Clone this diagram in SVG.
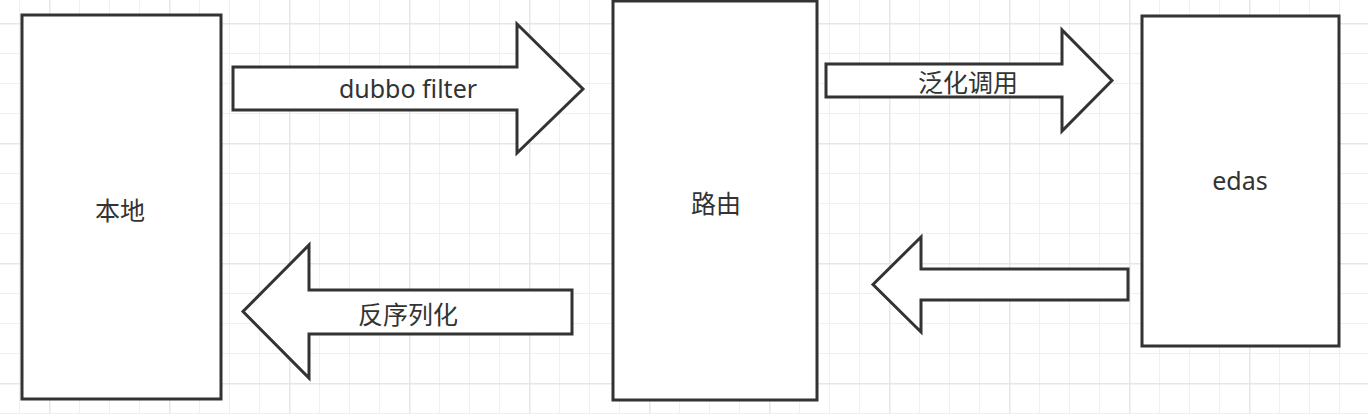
<svg xmlns="http://www.w3.org/2000/svg" width="1368" height="414" viewBox="0 0 1368 414">
<style>
.node{fill:#ffffff;stroke:#333333;stroke-width:3}
.arrow{fill:#ffffff;stroke:#333333;stroke-width:3;stroke-linejoin:miter}
.lbl{font-family:"Noto Sans","Noto Sans CJK SC",sans-serif;font-size:25px;fill:#333333;text-anchor:middle}
.cjk{font-family:"Noto Sans CJK SC","Noto Sans",sans-serif;font-size:25px;fill:#333333;text-anchor:middle;dominant-baseline:central}
</style>
<defs>
<pattern id="grid" patternUnits="userSpaceOnUse" x="19" y="23" width="120" height="120">
<g fill="#f0f0f0">
<rect x="0" y="0" width="1" height="120"/>
<rect x="60" y="0" width="1" height="120"/>
<rect x="90" y="0" width="1" height="120"/>
<rect x="0" y="30" width="120" height="1"/>
<rect x="0" y="60" width="120" height="1"/>
<rect x="0" y="90" width="120" height="1"/>
</g>
<g fill="#e6e6e6">
<rect x="30" y="0" width="1.5" height="120"/>
<rect x="0" y="0" width="120" height="1.5"/>
</g>
</pattern>
</defs>
<rect x="0" y="0" width="1368" height="414" fill="#ffffff"/>
<rect x="0" y="0" width="1368" height="414" fill="url(#grid)"/>

<g id="connectors">
<g id="arrow-dubbo-filter">
<polygon class="arrow" points="233,67 517,67 517,24 583,89 517,153 517,110 233,110"/>
<text class="lbl" x="408" y="98">dubbo filter</text>
</g>
<g id="arrow-generic-call">
<polygon class="arrow" points="826,64 1062,64 1062,30 1112,80.5 1062,131 1062,97 826,97"/>
<text class="cjk" x="968" y="80.5">泛化调用</text>
</g>
<g id="arrow-return">
<polygon class="arrow" points="1128,269 921,269 921,237 873,284.5 921,332 921,300 1128,300"/>
</g>
<g id="arrow-deserialize">
<polygon class="arrow" points="572,290 309,290 309,245 243,311.5 309,378 309,334 572,334"/>
<text class="cjk" x="408" y="312.5">反序列化</text>
</g>
</g>

<g id="node-local">
<rect class="node" x="22" y="15" width="199" height="384"/>
<text class="cjk" x="120" y="209">本地</text>
</g>
<g id="node-router">
<rect class="node" x="613" y="1" width="204" height="399"/>
<text class="cjk" x="716" y="202">路由</text>
</g>
<g id="node-edas">
<rect class="node" x="1142" y="16" width="197" height="330"/>
<text class="lbl" x="1240" y="190">edas</text>
</g>
</svg>
